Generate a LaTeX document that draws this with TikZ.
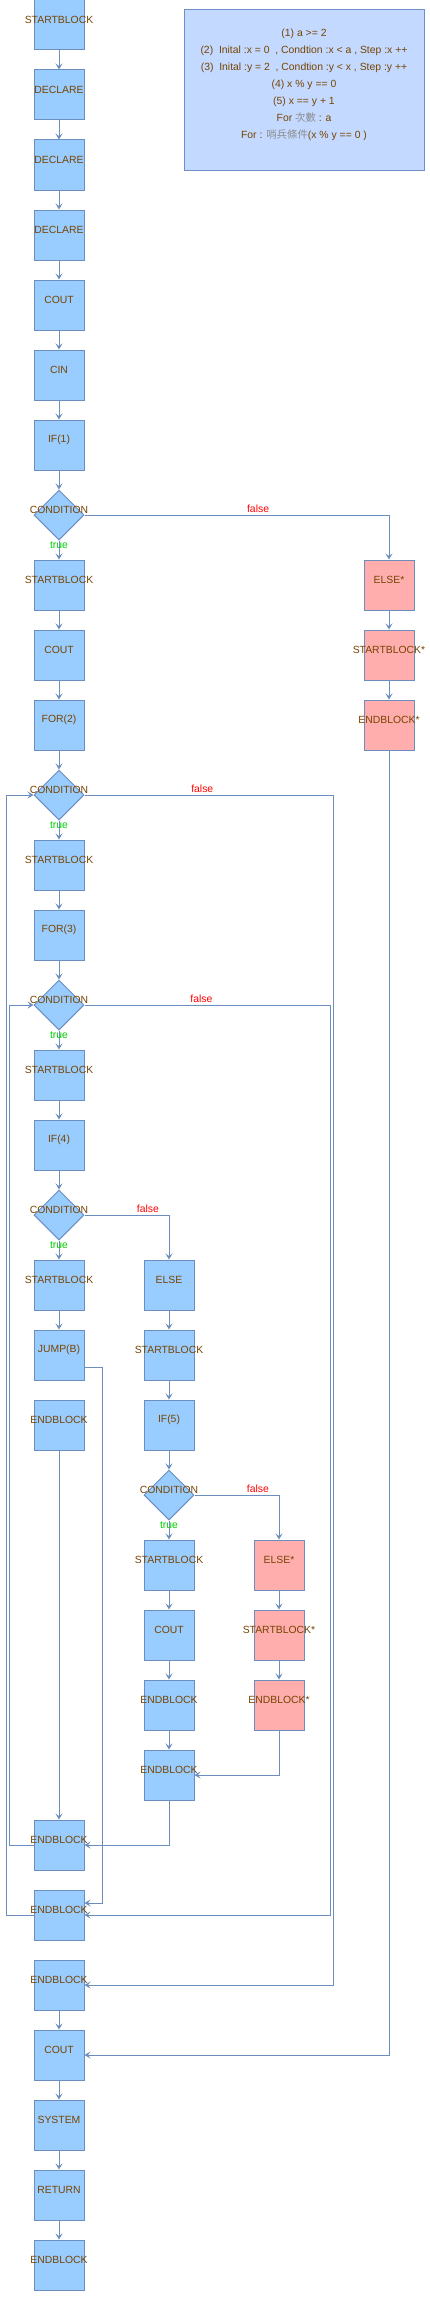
\documentclass[tikz,border=0pt]{standalone}
\usepackage{fontspec}
\setmainfont{Liberation Sans}
\newfontfamily\cjk{Noto Sans CJK TC}
\usetikzlibrary{arrows.meta,shapes.geometric,calc}
\definecolor{bfill}{HTML}{99CCFF}
\definecolor{pfill}{HTML}{FFADAD}
\definecolor{bord}{HTML}{6C8EBF}
\definecolor{txtc}{HTML}{774400}
\definecolor{nfill}{HTML}{C3D9FF}
\definecolor{nbord}{HTML}{6D8FCC}
\definecolor{cjkgray}{HTML}{8C8C8C}
\definecolor{truec}{HTML}{00CC00}
\begin{document}
\begin{tikzpicture}[x=1pt,y=-1pt,
  lbl/.style={font=\fontsize{10.4}{13}\selectfont, text=txtc, inner sep=0pt, yshift=5pt},
  blk/.style={draw=bord, fill=bfill, line width=1pt, minimum width=50pt, minimum height=50pt, inner sep=0pt, label={[lbl]center:#1}},
  pblk/.style={blk=#1, fill=pfill},
  cond/.style={shape=diamond, draw=bord, fill=bfill, line width=1pt, minimum width=50pt, minimum height=50pt, inner sep=0pt, aspect=1, label={[lbl]center:CONDITION}},
  arr/.style={draw=bord, line width=1pt, -{Stealth[length=6pt,width=7pt,inset=2.5pt]}},
  fl/.style={font=\fontsize{10.4}{13}\selectfont, text=red, inner sep=0pt, yshift=6pt},
  tl/.style={font=\fontsize{10.4}{13}\selectfont, text=truec, inner sep=0pt},
  notebox/.style={draw=nbord, fill=nfill, line width=1pt, minimum width=240pt, minimum height=160pt, inner sep=0pt},
  notetxt/.style={font=\fontsize{10.4}{17}\selectfont, text=txtc, align=center, inner sep=0pt}
]
\useasboundingbox (0,0) rectangle (430,2312);

% note
\node[notebox] (note) at (304,90) {};
\node[notetxt] (notet) at (304,85) {(1) a >= 2\\
(2)\ \ Inital :x = 0\ \ , Condtion :x < a , Step :x ++\\
(3)\ \ Inital :y = 2\ \ , Condtion :y < x , Step :y ++\\
(4) x \% y == 0\\
(5) x == y + 1\\
For {\cjk\color{cjkgray}次數} : a\\
For : {\cjk\color{cjkgray}哨兵條件}(x \% y == 0 )};

% main column
\node[blk=STARTBLOCK] (s0) at (59,25) {};
\node[blk=DECLARE] (d1) at (59,95) {};
\node[blk=DECLARE] (d2) at (59,165) {};
\node[blk=DECLARE] (d3) at (59,235) {};
\node[blk=COUT] (co4) at (59,305) {};
\node[blk=CIN] (ci5) at (59,375) {};
\node[blk=IF(1)] (if6) at (59,445) {};
\node[cond] (c7) at (59,515) {};
\node[blk=STARTBLOCK] (s8) at (59,585) {};
\node[blk=COUT] (co9) at (59,655) {};
\node[blk=FOR(2)] (f10) at (59,725) {};
\node[cond] (c11) at (59,795) {};
\node[blk=STARTBLOCK] (s12) at (59,865) {};
\node[blk=FOR(3)] (f13) at (59,935) {};
\node[cond] (c14) at (59,1005) {};
\node[blk=STARTBLOCK] (s15) at (59,1075) {};
\node[blk=IF(4)] (if16) at (59,1145) {};
\node[cond] (c17) at (59,1215) {};
\node[blk=STARTBLOCK] (s18) at (59,1285) {};
\node[blk=JUMP(B)] (j19) at (59,1355) {};
\node[blk=ENDBLOCK] (e20) at (59,1425) {};
\node[blk=ENDBLOCK] (e26) at (59,1845) {};
\node[blk=ENDBLOCK] (e27) at (59,1915) {};
\node[blk=ENDBLOCK] (e28) at (59,1985) {};
\node[blk=COUT] (co29) at (59,2055) {};
\node[blk=SYSTEM] (sy30) at (59,2125) {};
\node[blk=RETURN] (r31) at (59,2195) {};
\node[blk=ENDBLOCK] (e32) at (59,2265) {};

% column 4
\node[pblk=ELSE*] (el8) at (389,585) {};
\node[pblk=STARTBLOCK*] (sb9) at (389,655) {};
\node[pblk=ENDBLOCK*] (eb10) at (389,725) {};

% column 2
\node[blk=ELSE] (el18) at (169,1285) {};
\node[blk=STARTBLOCK] (sb19) at (169,1355) {};
\node[blk=IF(5)] (if20) at (169,1425) {};
\node[cond] (c21) at (169,1495) {};
\node[blk=STARTBLOCK] (s22) at (169,1565) {};
\node[blk=COUT] (co23) at (169,1635) {};
\node[blk=ENDBLOCK] (e24) at (169,1705) {};
\node[blk=ENDBLOCK] (e25) at (169,1775) {};

% column 3
\node[pblk=ELSE*] (el22) at (279,1565) {};
\node[pblk=STARTBLOCK*] (sb23) at (279,1635) {};
\node[pblk=ENDBLOCK*] (eb24) at (279,1705) {};

% routing coordinates
\coordinate (rA) at (333,0);
\coordinate (rB) at (330,0);
\coordinate (rJ) at (102,0);
\coordinate (lA) at (6.5,0);
\coordinate (lB) at (9.5,0);

% straight arrows
\draw[arr] (s0) -- (d1);
\draw[arr] (d1) -- (d2);
\draw[arr] (d2) -- (d3);
\draw[arr] (d3) -- (co4);
\draw[arr] (co4) -- (ci5);
\draw[arr] (ci5) -- (if6);
\draw[arr] (if6) -- (c7);
\draw[arr] (c7) -- node[tl,pos=0.25]{true} (s8);
\draw[arr] (s8) -- (co9);
\draw[arr] (co9) -- (f10);
\draw[arr] (f10) -- (c11);
\draw[arr] (c11) -- node[tl,pos=0.25]{true} (s12);
\draw[arr] (s12) -- (f13);
\draw[arr] (f13) -- (c14);
\draw[arr] (c14) -- node[tl,pos=0.25]{true} (s15);
\draw[arr] (s15) -- (if16);
\draw[arr] (if16) -- (c17);
\draw[arr] (c17) -- node[tl,pos=0.25]{true} (s18);
\draw[arr] (s18) -- (j19);
\draw[arr] (e20) -- (e26);
\draw[arr] (e28) -- (co29);
\draw[arr] (co29) -- (sy30);
\draw[arr] (sy30) -- (r31);
\draw[arr] (r31) -- (e32);

\draw[arr] (el8) -- (sb9);
\draw[arr] (sb9) -- (eb10);

\draw[arr] (el18) -- (sb19);
\draw[arr] (sb19) -- (if20);
\draw[arr] (if20) -- (c21);
\draw[arr] (c21) -- node[tl,pos=0.25]{true} (s22);
\draw[arr] (s22) -- (co23);
\draw[arr] (co23) -- (e24);
\draw[arr] (e24) -- (e25);

\draw[arr] (el22) -- (sb23);
\draw[arr] (sb23) -- (eb24);

% false branches
\draw[arr] (c7.east) -- node[fl,pos=0.57]{false} (c7.east -| el8.north) -- (el8.north);
\draw[arr] (c11.east) -- node[fl,pos=0.474]{false} (c11.east -| rA) |- (e28.east);
\draw[arr] (c14.east) -- node[fl,pos=0.476]{false} (c14.east -| rB) |- (e27.east);
\draw[arr] (c17.east) -- node[fl,pos=0.75]{false} (c17.east -| el18.north) -- (el18.north);
\draw[arr] (c21.east) -- node[fl,pos=0.75]{false} (c21.east -| el22.north) -- (el22.north);

% merges
\draw[arr] (eb24.south) |- (e25.east);
\draw[arr] (e25.south) |- (e26.east);
\draw[arr] (eb10.south) |- (co29.east);
\draw[arr] ([yshift=-12pt]j19.east) -- ([yshift=-12pt]j19.east -| rJ) |- ([yshift=12pt]e27.east);

% loop backs
\draw[arr] (e27.west) -- (e27.west -| lA) |- (c11.west);
\draw[arr] (e26.west) -- (e26.west -| lB) |- (c14.west);
\end{tikzpicture}
\end{document}
